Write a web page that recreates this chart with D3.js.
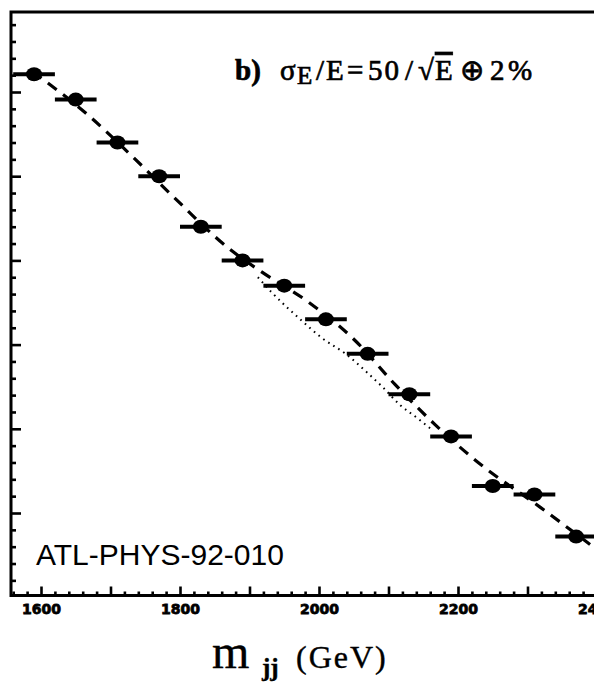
<!DOCTYPE html>
<html>
<head>
<meta charset="utf-8">
<script src="https://cdn.jsdelivr.net/npm/d3@7"></script>
<style>
  body { margin: 0; background: #fff; }
  svg { display: block; }
</style>
</head>
<body>
<script>
// bin centres (GeV), 60 GeV wide, and number of events per bin
var massBins = [1590, 1650, 1710, 1770, 1830, 1890, 1950, 2010, 2070, 2130, 2190, 2250, 2310, 2370];
var counts = [621, 591, 540, 500, 440, 400, 370, 330, 289, 241, 191, 132, 122, 72];
var binWidth = 60;

// dashed curve : fit with the resonance
var fitMass = [1588, 1670, 1732, 1790, 1869, 1918, 1984, 2053, 2109, 2167, 2229, 2318, 2396, 2440];
var fitValues = [624, 571, 523, 476, 415, 386, 351, 304, 253, 205, 160, 107, 59, 32];

// dotted curve : background only
var bgMass = [1912, 1932, 1973, 2004, 2040, 2069, 2091, 2117, 2141, 2164];
var bgValues = [380, 362, 330, 308, 288, 267, 250, 228, 213, 198];

var xTickLabels = [1600, 1800, 2000, 2200, 2400];

var width = 594, height = 687;
var frame = {left: 11, top: 12, bottom: 595.5};

var x = d3.scaleLinear()
    .domain([1600, 2400])
    .range([41, 597]);

var y = d3.scaleLinear()
    .domain([0, 600])
    .range([597.2, 92]);

var svg = d3.select("body").append("svg")
    .attr("width", width)
    .attr("height", height)
    .style("background-color", "#fff");

svg.append("clipPath").attr("id", "plotArea")
  .append("rect")
    .attr("x", frame.left)
    .attr("y", frame.top)
    .attr("width", width - frame.left)
    .attr("height", frame.bottom - frame.top);

// Axes (ticks point into the plot, no numbers on y)
var yMinor = d3.range(20, 700, 20).filter(function(d) { return d % 100 != 0; });
var yMajor = d3.range(100, 700, 100);
var xMinor = d3.range(1560, 2460, 20).filter(function(d) { return d % 100 != 0; });
var xMajor = d3.range(1600, 2500, 100);

function tickAxis(axis, cls, transform) {
  var g = svg.append("g")
      .attr("class", cls)
      .attr("transform", transform)
      .call(axis);
  g.select(".domain").remove();
  g.selectAll("line").attr("stroke", "#000").attr("stroke-width", 2.6);
  return g;
}

tickAxis(d3.axisRight(y).tickValues(yMinor).tickSize(5).tickFormat(""), "axis axis--y", "translate(" + frame.left + ",0)");
tickAxis(d3.axisRight(y).tickValues(yMajor).tickSize(10).tickFormat(""), "axis axis--y", "translate(" + frame.left + ",0)");
tickAxis(d3.axisTop(x).tickValues(xMinor).tickSize(4).tickFormat(""), "axis axis--x", "translate(0," + frame.bottom + ")");
tickAxis(d3.axisTop(x).tickValues(xMajor).tickSize(9).tickFormat(""), "axis axis--x", "translate(0," + frame.bottom + ")");

var labels = svg.append("g")
    .attr("transform", "translate(0," + frame.bottom + ")")
    .call(d3.axisBottom(x).tickValues(xTickLabels).tickSize(0).tickPadding(9).tickFormat(d3.format("d")));
labels.select(".domain").remove();
labels.selectAll("text")
    .attr("fill", "#000")
    .attr("stroke", "#000")
    .attr("stroke-width", 0.8)
    .style("font-family", "'DejaVu Sans'")
    .style("font-weight", "bold")
    .style("font-size", "14px");

// Frame
svg.append("path")
    .attr("d", "M" + width + "," + frame.top + "H" + frame.left + "V" + frame.bottom + "H" + width)
    .attr("fill", "none")
    .attr("stroke", "#000")
    .attr("stroke-width", 3);

var plot = svg.append("g").attr("clip-path", "url(#plotArea)");

// Curves
var fitLine = d3.line()
    .x(function(d) { return x(d[0]); })
    .y(function(d) { return y(d[1]); })
    .curve(d3.curveMonotoneX);

plot.append("path")
    .datum(d3.zip(bgMass, bgValues))
    .attr("d", fitLine)
    .attr("fill", "none")
    .attr("stroke", "#000")
    .attr("stroke-width", 2)
    .attr("stroke-dasharray", "1.6,4.4");

plot.append("path")
    .datum(d3.zip(fitMass, fitValues))
    .attr("d", fitLine)
    .attr("fill", "none")
    .attr("stroke", "#000")
    .attr("stroke-width", 3.2)
    .attr("stroke-dasharray", "11,8");

// Data points with bin-width bars
var points = d3.zip(massBins, counts);

plot.selectAll(".bin")
    .data(points)
    .enter().append("line")
    .attr("class", "bin")
    .attr("x1", function(d) { return x(d[0] - binWidth / 2); })
    .attr("x2", function(d) { return x(d[0] + binWidth / 2); })
    .attr("y1", function(d) { return y(d[1]); })
    .attr("y2", function(d) { return y(d[1]); })
    .attr("stroke", "#000")
    .attr("stroke-width", 4);

plot.selectAll(".dot")
    .data(points)
    .enter().append("ellipse")
    .attr("class", "dot")
    .attr("cx", function(d) { return x(d[0]); })
    .attr("cy", function(d) { return y(d[1]); })
    .attr("rx", 8)
    .attr("ry", 7)
    .attr("fill", "#000");

// Labels
var title = svg.append("text")
    .attr("y", 80)
    .style("font-family", "'Liberation Serif'")
    .style("font-size", "29px")
    .attr("fill", "#000")
    .attr("stroke", "#000")
    .attr("stroke-width", 0.7);
title.append("tspan").attr("x", 235).style("font-weight", "bold").text("b)");
title.append("tspan").attr("x", 280).text("σ");
title.append("tspan").attr("x", 297).attr("dy", 4).style("font-size", "25px").text("E");
title.append("tspan").attr("x", 316).attr("dy", -4).text("/");
title.append("tspan").attr("x", 326).text("E");
title.append("tspan").attr("x", 347).text("=");
title.append("tspan").attr("x", 368).style("letter-spacing", "2px").text("50");
title.append("tspan").attr("x", 405).text("/");
title.append("tspan").attr("x", 418).text("√");
title.append("tspan").attr("x", 435).style("text-decoration", "overline").text("E");
title.append("tspan").attr("x", 460).text("⊕");
title.append("tspan").attr("x", 490).text("2");
title.append("tspan").attr("x", 508).text("%");

svg.append("text")
    .attr("x", 36)
    .attr("y", 565)
    .style("font-family", "'Liberation Sans'")
    .style("font-size", "30px")
    .attr("fill", "#000")
    .text("ATL-PHYS-92-010");

var xTitle = svg.append("text")
    .attr("y", 668)
    .style("font-family", "'Liberation Serif'")
    .style("font-size", "32px")
    .attr("fill", "#000")
    .attr("stroke", "#000")
    .attr("stroke-width", 0.4);
xTitle.append("tspan").attr("x", 212).style("font-size", "48px").text("m");
xTitle.append("tspan").attr("x", 262).attr("dy", 8).style("font-size", "25px").style("font-weight", "bold").text("jj");
xTitle.append("tspan").attr("x", 296).attr("dy", -8).style("letter-spacing", "2px").text("(GeV)");
</script>
</body>
</html>
